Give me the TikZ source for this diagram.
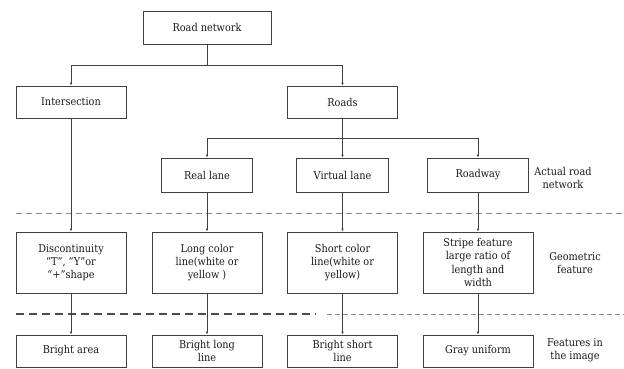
\documentclass[tikz,border=0pt]{standalone}
\usepackage{fontspec}
\setmainfont{DejaVu Serif Condensed}
\usetikzlibrary{arrows.meta}
\begin{document}
\begin{tikzpicture}[x=1pt,y=-1pt,
  box/.style={draw=black!75,line width=0.9pt,align=center,inner sep=1pt,font=\fontsize{10.8}{13.3}\selectfont,text=black!90},
  lbl/.style={align=center,inner sep=0pt,font=\fontsize{10.8}{13.3}\selectfont,text=black!90},
  conn/.style={draw=black!75,line width=0.9pt},
  arr/.style={conn,-{Latex[length=3pt,width=2.6pt]}},
  sep/.style={draw=black!45,line width=0.9pt,dash pattern=on 6pt off 4pt}]
\useasboundingbox (0,0) rectangle (624,368);
% top levels
\node[box,minimum width=128pt,minimum height=33pt] (rn) at (207,27.5) {Road network};
\node[box,minimum width=110pt,minimum height=32pt] (inter) at (71,102) {Intersection};
\node[box,minimum width=110pt,minimum height=32pt] (roads) at (342.5,102) {Roads};
\node[box,minimum width=91pt,minimum height=34pt] (real) at (207,175) {Real lane};
\node[box,minimum width=92pt,minimum height=34pt] (virt) at (342.5,175) {Virtual lane};
\node[box,minimum width=101pt,minimum height=34pt] (rway) at (478,175) {Roadway};
% geometric row
\node[box,minimum width=110pt,minimum height=61pt] (disc) at (71,262.5) {Discontinuity\\“T”, “Y”or\\“+”shape};
\node[box,minimum width=110pt,minimum height=61pt] (long) at (207,262.5) {Long color\\line(white or\\yellow )};
\node[box,minimum width=110pt,minimum height=61pt] (short) at (342.5,262.5) {Short color\\line(white or\\yellow)};
\node[box,minimum width=110pt,minimum height=61pt] (stripe) at (478,262.5) {Stripe feature\\large ratio of\\length and\\width};
% image row
\node[box,minimum width=110pt,minimum height=32pt] (barea) at (71,351) {Bright area};
\node[box,minimum width=110pt,minimum height=32pt] (blong) at (207,351) {Bright long\\line};
\node[box,minimum width=110pt,minimum height=32pt] (bshort) at (342.5,351) {Bright short\\line};
\node[box,minimum width=110pt,minimum height=32pt] (gray) at (478,351) {Gray uniform};
% side labels
\node[lbl] (l1) at (563,178) {Actual road\\network};
\node[lbl] (l2) at (575,263) {Geometric\\feature};
\node[lbl] (l3) at (575,350) {Features in\\the image};
% separators
\coordinate (s1a) at (16,213); \coordinate (s1b) at (624,213);
\coordinate (s2a) at (16,314); \coordinate (s2b) at (316,314);
\coordinate (s3a) at (327,314); \coordinate (s3b) at (624,314);
\draw[sep] (s1a) -- (s1b);
\draw[draw=black!70,line width=1.3pt,dash pattern=on 8pt off 5pt] (s2a) -- (s2b);
\draw[draw=black!45,line width=0.9pt,dash pattern=on 5pt off 3pt] (s3a) -- (s3b);
% connectors
\coordinate (j1) at (207,65);
\draw[conn] (rn.south) -- (j1);
\draw[arr] (j1) -| (inter.north);
\draw[arr] (j1) -| (roads.north);
\coordinate (j2) at (342.5,138);
\draw[conn] (roads.south) -- (j2);
\draw[arr] (j2) -| (real.north);
\draw[arr] (j2) -- (virt.north);
\draw[arr] (j2) -| (rway.north);
\draw[arr] (inter.south) -- (disc.north);
\draw[arr] (real.south) -- (long.north);
\draw[arr] (virt.south) -- (short.north);
\draw[arr] (rway.south) -- (stripe.north);
\draw[arr] (disc.south) -- (barea.north);
\draw[arr] (long.south) -- (blong.north);
\draw[arr] (short.south) -- (bshort.north);
\draw[arr] (stripe.south) -- (gray.north);
\end{tikzpicture}
\end{document}
